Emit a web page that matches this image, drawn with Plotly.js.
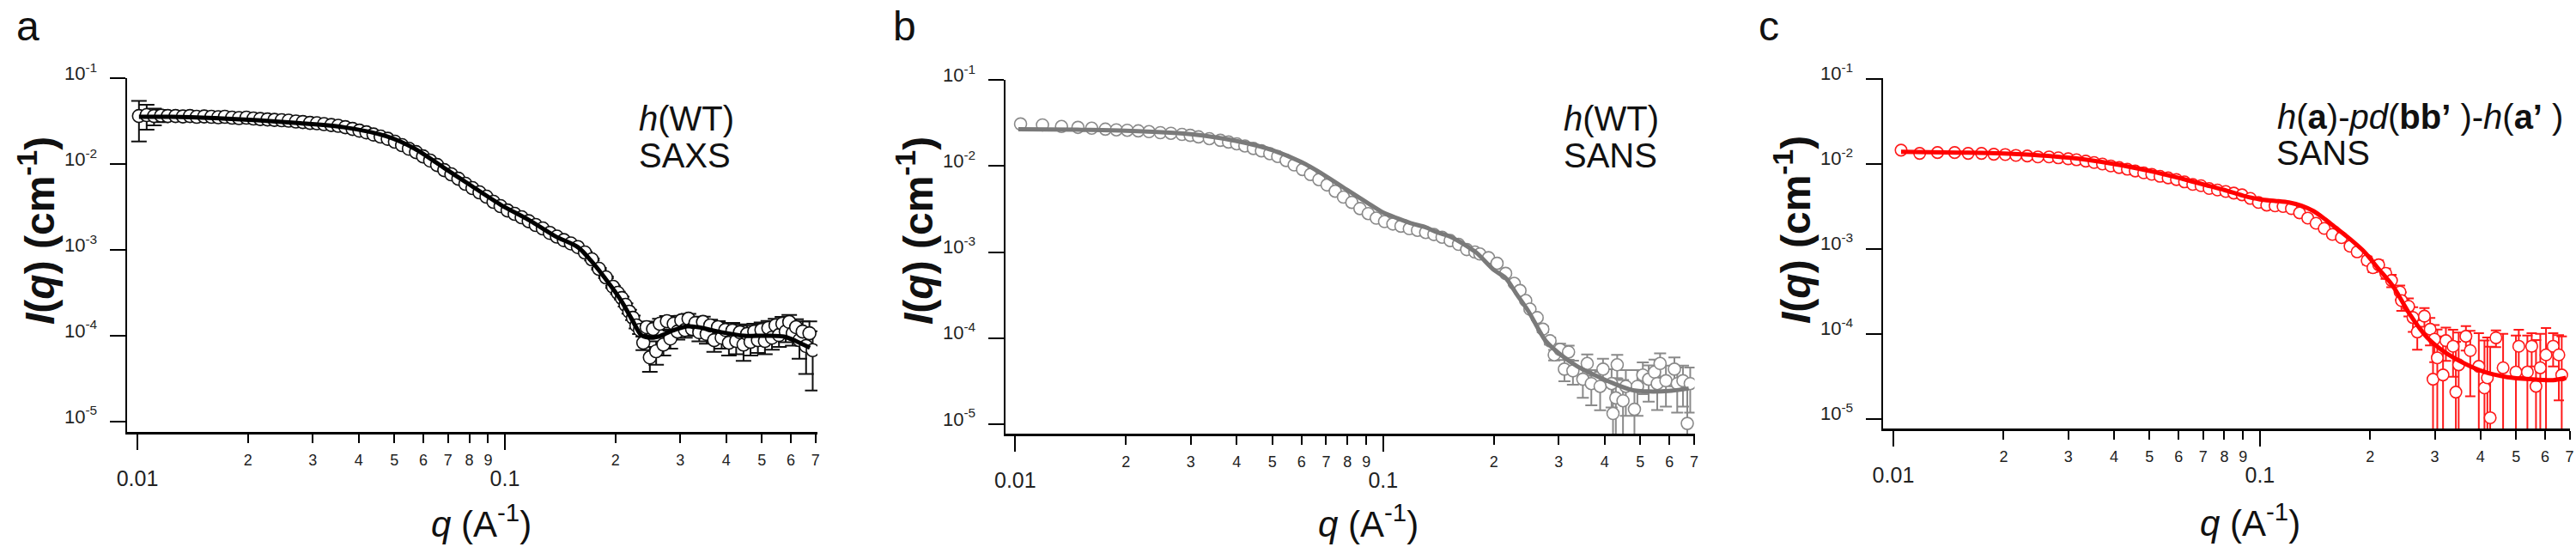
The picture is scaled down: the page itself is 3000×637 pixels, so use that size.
<!DOCTYPE html>
<html>
<head>
<meta charset="utf-8">
<script src="https://cdn.plot.ly/plotly-3.0.1.min.js"></script>
<style>
  html, body { margin: 0; padding: 0; background: #fff; }
  #chart { width: 3000px; height: 637px; }
</style>
</head>
<body>
<div id="chart"></div>
<script>
// ---- panel a : h(WT) SAXS ----
var saxsQ = [0.0101, 0.0106, 0.0111, 0.0116, 0.0121, 0.0127, 0.0133, 0.0139, 0.0145, 0.0152,
  0.0159, 0.0166, 0.0173, 0.0181, 0.0189, 0.0198, 0.0207, 0.0216, 0.0226, 0.0236,
  0.0247, 0.0258, 0.0270, 0.0282, 0.0295, 0.0308, 0.0322, 0.0337, 0.0352, 0.0368,
  0.0385, 0.0402, 0.0420, 0.0439, 0.0459, 0.0480, 0.0502, 0.0525, 0.0548, 0.0573,
  0.0599, 0.0626, 0.0654, 0.0684, 0.0715, 0.0747, 0.0781, 0.0816, 0.0853, 0.0891,
  0.0931, 0.0973, 0.1017, 0.1063, 0.1111, 0.1161, 0.1213, 0.1268, 0.1325, 0.1385,
  0.1447, 0.1512, 0.1580, 0.1651, 0.1725, 0.1803, 0.1884, 0.1969, 0.2030, 0.2080,
  0.2130, 0.2180, 0.2230, 0.2280, 0.2330, 0.2380, 0.2430, 0.2480, 0.2530, 0.2580,
  0.2640, 0.2700, 0.2760, 0.2820, 0.2880, 0.2950, 0.3020, 0.3090, 0.3160, 0.3230,
  0.3300, 0.3380, 0.3460, 0.3540, 0.3620, 0.3710, 0.3800, 0.3890, 0.3980, 0.4070,
  0.4160, 0.4260, 0.4360, 0.4460, 0.4560, 0.4660, 0.4770, 0.4880, 0.4990, 0.5100,
  0.5210, 0.5330, 0.5450, 0.5570, 0.5690, 0.5810, 0.5940, 0.6070, 0.6200, 0.6330,
  0.6460, 0.6600, 0.6740, 0.6880];
var saxsI = [0.0363, 0.0372, 0.0363, 0.0367, 0.0363, 0.0363, 0.0359, 0.0363, 0.0355, 0.0359,
  0.0355, 0.0351, 0.0355, 0.0347, 0.0343, 0.0347, 0.0339, 0.0335, 0.0331, 0.0327,
  0.0324, 0.0320, 0.0313, 0.0309, 0.0302, 0.0299, 0.0292, 0.0285, 0.0279, 0.0269,
  0.0257, 0.0245, 0.0234, 0.0221, 0.0209, 0.0197, 0.0182, 0.0166, 0.0151, 0.0138,
  0.0123, 0.0110, 0.00977, 0.00851, 0.00759, 0.00676, 0.00589, 0.00525, 0.00468, 0.00417,
  0.00363, 0.00324, 0.00288, 0.00263, 0.00240, 0.00216, 0.00195, 0.00178, 0.00158, 0.00143,
  0.00130, 0.00119, 0.00108, 0.000933, 0.000776, 0.000603, 0.000479, 0.000372, 0.000316, 0.000275,
  0.000229, 0.000191, 0.000162, 0.000132, 0.000117, 0.0000830, 0.000126, 0.0000560, 0.000120, 0.0000660,
  0.000138, 0.0000790, 0.000148, 0.0000930, 0.000138, 0.000112, 0.000151, 0.000117, 0.000158, 0.000120,
  0.000141, 0.000110, 0.000145, 0.000105, 0.000132, 0.0000890, 0.000126, 0.0000950, 0.000117, 0.0000830,
  0.000115, 0.0000870, 0.000110, 0.0000790, 0.000105, 0.0000850, 0.000112, 0.0000890, 0.000117, 0.0000870,
  0.000123, 0.0000950, 0.000132, 0.000102, 0.000138, 0.000112, 0.000145, 0.000107, 0.000126, 0.0000890,
  0.000112, 0.0000760, 0.000107, 0.0000680];
var saxsErr = [0.018, 0.012, 0.008, 0.006, 0.004, 0.003, 0.0025, 0.002, 0.0015, 0.0012,
  0.0010, 0.0010, 0.0009, 0.0009, 0.0008, 0.0008, 0.0007, 0.0007, 0.0007, 0.0006,
  0.0006, 0.0006, 0.0006, 0.0006, 0.0006, 0.0006, 0.0006, 0.0006, 0.0006, 0.0006,
  0.0005, 0.0005, 0.0004, 0.0004, 0.0004, 0.0004, 0.0003, 0.0003, 0.0003, 0.0003,
  0.0002, 0.0002, 0.0002, 0.0002, 0.00015, 0.00015, 0.00012, 0.0001, 0.0001, 0.00008,
  0.00007, 0.00006, 0.00005, 0.00005, 0.00004, 0.00004, 0.00004, 0.00003, 0.00003, 0.00003,
  0.00003, 0.00002, 0.00002, 0.00002, 0.00002, 0.000015, 0.000012, 0.00001, 0.00001, 0.00001,
  0.00001, 0.00001, 0.00001, 0.00001, 0.000012, 0.000015, 0.00002, 0.000018, 0.00002, 0.00002,
  0.00002, 0.00002, 0.000022, 0.000022, 0.00002, 0.000022, 0.00002, 0.000022, 0.000022, 0.00002,
  0.000022, 0.000024, 0.000022, 0.000024, 0.000022, 0.000024, 0.000022, 0.000024, 0.000024, 0.000024,
  0.000026, 0.000026, 0.000026, 0.000028, 0.000026, 0.000026, 0.000026, 0.000026, 0.000026, 0.000026,
  0.000026, 0.000026, 0.000026, 0.000028, 0.000028, 0.000028, 0.00003, 0.00003, 0.00003, 0.000035,
  0.000035, 0.00004, 0.00004, 0.000045];
var saxsFitQ = [0.0101, 0.0124, 0.0162, 0.0212, 0.0278, 0.0364, 0.0476, 0.0569, 0.0681, 0.0815,
  0.0975, 0.1167, 0.1371, 0.1583, 0.171, 0.1894, 0.2072, 0.2224, 0.2349, 0.2455,
  0.2616, 0.2859, 0.3128, 0.3358, 0.388, 0.448, 0.517, 0.575, 0.618, 0.676];
var saxsFitI = [0.0355, 0.0355, 0.0343, 0.0324, 0.0299, 0.0269, 0.0211, 0.0151, 0.00912, 0.0055,
  0.00335, 0.00221, 0.001445, 0.00107, 0.00076, 0.00044, 0.000257, 0.000151, 0.000102, 0.0000955,
  0.0000977, 0.000115, 0.000129, 0.000126, 0.00011, 0.0001, 0.0001, 0.0000977, 0.0000871, 0.0000724];

// ---- panel b : h(WT) SANS ----
var wtQ = [0.01034, 0.01186, 0.01336, 0.01481, 0.01614, 0.01758, 0.01883, 0.02016, 0.0216, 0.0231,
  0.0248, 0.0265, 0.0284, 0.0299, 0.0315, 0.0337, 0.0361, 0.0380, 0.0400, 0.0421,
  0.0444, 0.0467, 0.0492, 0.0517, 0.0545, 0.0573, 0.0604, 0.0635, 0.0669, 0.0704,
  0.0741, 0.0780, 0.0822, 0.0865, 0.0911, 0.0958, 0.1009, 0.1063, 0.1118, 0.1178,
  0.1240, 0.1305, 0.1374, 0.1446, 0.1522, 0.1603, 0.1687, 0.1776, 0.1832, 0.1934,
  0.2040, 0.2153, 0.2272, 0.2355, 0.2441, 0.2507, 0.2622, 0.2717, 0.2842, 0.2918,
  0.3025, 0.3110, 0.3191, 0.3280, 0.3490, 0.3587, 0.3680, 0.3889, 0.3959, 0.4178,
  0.4215, 0.4290, 0.4327, 0.4487, 0.4567, 0.4820, 0.4910, 0.5080, 0.5270, 0.5465,
  0.5560, 0.5660, 0.5870, 0.6190, 0.6300, 0.6530, 0.6710, 0.6834];
var wtI = [0.0308, 0.0300, 0.0288, 0.0281, 0.0275, 0.0268, 0.0263, 0.0260, 0.0256, 0.0251,
  0.0244, 0.0240, 0.0233, 0.0227, 0.0218, 0.0208, 0.0199, 0.0190, 0.0181, 0.0171,
  0.0160, 0.0150, 0.0139, 0.0129, 0.0116, 0.0103, 0.0091, 0.00798, 0.00694, 0.00603,
  0.0051, 0.00435, 0.00378, 0.0032, 0.0028, 0.00248, 0.00226, 0.00212, 0.0020, 0.00187,
  0.00179, 0.00169, 0.0016, 0.00149, 0.00136, 0.00123, 0.00107, 0.00100, 0.00095, 0.00086,
  0.00074, 0.000565, 0.000432, 0.000357, 0.000273, 0.000217, 0.000173, 0.000127, 0.000093, 0.000064,
  0.000074, 0.0000436, 0.000069, 0.0000417, 0.0000333, 0.0000507, 0.0000296, 0.0000275, 0.0000436, 0.0000296,
  0.0000133, 0.0000202, 0.000049, 0.0000187, 0.0000275, 0.0000149, 0.0000275, 0.0000373, 0.0000333, 0.0000403,
  0.0000296, 0.0000507, 0.000032, 0.0000436, 0.0000296, 0.000032, 0.0000102, 0.0000296];
var wtErr = [0.0008, 0.0006, 0.0005, 0.0005, 0.0004, 0.0004, 0.0004, 0.0004, 0.0004, 0.0004,
  0.0004, 0.0004, 0.0004, 0.0004, 0.0004, 0.0003, 0.0003, 0.0003, 0.0003, 0.0003,
  0.0003, 0.0003, 0.0003, 0.0003, 0.0002, 0.0002, 0.0002, 0.0002, 0.00015, 0.00015,
  0.00012, 0.0001, 0.00008, 0.00007, 0.00006, 0.00005, 0.00005, 0.00005, 0.00004, 0.00004,
  0.00004, 0.00004, 0.00004, 0.00003, 0.00003, 0.00003, 0.00003, 0.00003, 0.00003, 0.00003,
  0.00003, 0.000025, 0.00002, 0.00002, 0.000015, 0.000012, 0.00001, 0.00001, 0.000009, 0.000009,
  0.000012, 0.000012, 0.000013, 0.000013, 0.000013, 0.000014, 0.000013, 0.000013, 0.000014, 0.000014,
  0.000014, 0.000014, 0.000015, 0.000014, 0.000015, 0.000014, 0.000015, 0.000015, 0.000015, 0.000016,
  0.000015, 0.000016, 0.000016, 0.000016, 0.000016, 0.000016, 0.000022, 0.000016];
var wtFitQ = [0.0102, 0.0148, 0.02, 0.03, 0.04, 0.05, 0.06, 0.07, 0.08, 0.09,
  0.1, 0.11, 0.12, 0.13, 0.14, 0.15, 0.16, 0.17, 0.18, 0.2,
  0.2153, 0.23, 0.2485, 0.2765, 0.3026, 0.337, 0.382, 0.425, 0.473, 0.527,
  0.608, 0.677];
var wtFitI = [0.0268, 0.0264, 0.0257, 0.0234, 0.0195, 0.0153, 0.0111, 0.0076, 0.00525, 0.0038,
  0.00288, 0.00245, 0.00214, 0.00195, 0.0017, 0.00155, 0.00135, 0.00115, 0.00097, 0.00062,
  0.0005, 0.00033, 0.000204, 0.000093, 0.000065, 0.000047, 0.000036, 0.0000295, 0.000025, 0.000024,
  0.0000245, 0.000026];

// ---- panel c : h(a)-pd(bb')-h(a') SANS ----
var mixQ = [0.0105, 0.0118, 0.0132, 0.0147, 0.0160, 0.0174, 0.0188, 0.0202, 0.0216, 0.0232,
  0.0248, 0.0266, 0.0282, 0.0300, 0.0316, 0.0335, 0.0353, 0.0372, 0.0392, 0.0413,
  0.0435, 0.0457, 0.0482, 0.0507, 0.0534, 0.0562, 0.0592, 0.0623, 0.0656, 0.0691,
  0.0727, 0.0766, 0.0807, 0.0849, 0.0894, 0.0942, 0.0991, 0.1044, 0.1100, 0.1157,
  0.1219, 0.1283, 0.1351, 0.1423, 0.1498, 0.1577, 0.1669, 0.1762, 0.1842, 0.1962,
  0.2034, 0.2109, 0.2205, 0.2286, 0.2412, 0.2434, 0.2546, 0.2616, 0.2688, 0.2811,
  0.2914, 0.2967, 0.2994, 0.3048, 0.3160, 0.3217, 0.3365, 0.3425, 0.3486, 0.3648,
  0.3749, 0.3956, 0.4099, 0.4175, 0.4249, 0.4406, 0.4608, 0.4995, 0.5085, 0.5368,
  0.5515, 0.5666, 0.5821, 0.6034, 0.6310, 0.6541, 0.6660];
var mixI = [0.0144, 0.0132, 0.0135, 0.0135, 0.0132, 0.0132, 0.0129, 0.0128, 0.0125, 0.0123,
  0.0120, 0.0120, 0.0117, 0.0114, 0.0111, 0.0107, 0.0103, 0.0099, 0.0094, 0.0090,
  0.0086, 0.0082, 0.0078, 0.0075, 0.0071, 0.0068, 0.0065, 0.0061, 0.0057, 0.0055,
  0.0051, 0.0049, 0.0047, 0.0045, 0.0043, 0.0039, 0.0035, 0.00325, 0.00319, 0.00313,
  0.00296, 0.00264, 0.00229, 0.00199, 0.00173, 0.00147, 0.00135, 0.00107, 0.000918, 0.000728,
  0.000598, 0.000647, 0.000513, 0.000423, 0.00031, 0.000246, 0.00021, 0.000155, 0.000105, 0.000161,
  0.000113, 0.0000292, 0.0000863, 0.0000521, 0.0000328, 0.000083, 0.0000713, 0.0000206, 0.0000431, 0.0000933,
  0.0000634, 0.0000414, 0.0000231, 0.0000303, 0.0000103, 0.0000897, 0.0000398, 0.0000355, 0.0000713, 0.0000355,
  0.0000713, 0.0000241, 0.0000398, 0.0000565, 0.0000713, 0.0000565, 0.0000328];
var mixErr = [0.0004, 0.0003, 0.0003, 0.0003, 0.0003, 0.0003, 0.0003, 0.0003, 0.0003, 0.0003,
  0.0003, 0.0003, 0.0003, 0.0003, 0.0003, 0.0003, 0.0003, 0.0003, 0.0003, 0.0003,
  0.0003, 0.0003, 0.0003, 0.0003, 0.0003, 0.0003, 0.0003, 0.0003, 0.0003, 0.0003,
  0.0002, 0.0002, 0.0002, 0.0002, 0.0002, 0.0002, 0.0002, 0.0002, 0.0002, 0.0002,
  0.0002, 0.0002, 0.0002, 0.00015, 0.00015, 0.00012, 0.0001, 0.0001, 0.00008, 0.00008,
  0.00007, 0.00008, 0.00007, 0.00007, 0.00006, 0.00006, 0.00005, 0.00005, 0.00004, 0.00004,
  0.00004, 0.00006, 0.00004, 0.00006, 0.00006, 0.000035, 0.00004, 0.00006, 0.00006, 0.00003,
  0.000045, 0.00006, 0.00006, 0.00006, 0.00006, 0.00002, 0.00006, 0.00006, 0.00004, 0.00006,
  0.00003, 0.00006, 0.00006, 0.00006, 0.00003, 0.00004, 0.00006];
var mixFitQ = [0.0105, 0.015, 0.02, 0.03, 0.04, 0.05, 0.06, 0.07, 0.08, 0.09,
  0.1, 0.11, 0.12, 0.13, 0.14, 0.15, 0.161, 0.1765, 0.1927, 0.21,
  0.2307, 0.257, 0.2862, 0.3189, 0.3614, 0.41, 0.473, 0.5468, 0.631, 0.684];
var mixFitI = [0.01377, 0.0135, 0.01315, 0.01175, 0.0099, 0.0082, 0.0068, 0.0057, 0.0049, 0.0042,
  0.0038, 0.00365, 0.0035, 0.0032, 0.00277, 0.00225, 0.00177, 0.00129, 0.00092, 0.00059,
  0.000363, 0.000167, 0.0000897, 0.000061, 0.0000447, 0.0000355, 0.0000309, 0.0000292, 0.0000285, 0.0000303];

// ---- tick labels ----
var minorTickVals = [0.02, 0.03, 0.04, 0.05, 0.06, 0.07, 0.08, 0.09, 0.2, 0.3, 0.4, 0.5, 0.6, 0.7];
var minorTickText = ['2', '3', '4', '5', '6', '7', '8', '9', '2', '3', '4', '5', '6', '7'];
var majorTickVals = [0.01, 0.1];
var majorTickText = ['0.01', '0.1'];
var yTickVals = [1e-5, 1e-4, 1e-3, 1e-2, 1e-1];
var yTickText = ['10<sup>-5</sup>', '10<sup>-4</sup>', '10<sup>-3</sup>', '10<sup>-2</sup>', '10<sup>-1</sup>'];

var FONT = 'Liberation Sans, Arial, Helvetica, sans-serif';
var W = 3000, H = 637;

function px(x) { return x / W; }
function py(y) { return 1 - y / H; }

function minorX(anchor, domain, range) {
  return {
    anchor: anchor, domain: domain, type: 'log', range: range,
    showline: true, linecolor: '#000', linewidth: 2.5,
    ticks: 'outside', ticklen: 10, tickwidth: 2, tickcolor: '#000',
    tickmode: 'array', tickvals: minorTickVals, ticktext: minorTickText,
    tickfont: {family: FONT, size: 18, color: '#222'},
    ticklabelstandoff: 5,
    showgrid: false, zeroline: false, fixedrange: true
  };
}

function majorX(over, anchor, range) {
  return {
    overlaying: over, anchor: anchor, side: 'bottom', type: 'log', range: range,
    showline: false, ticks: 'outside', ticklen: 20, tickwidth: 2, tickcolor: '#000',
    tickmode: 'array', tickvals: majorTickVals, ticktext: majorTickText,
    tickfont: {family: FONT, size: 25, color: '#222'},
    ticklabelstandoff: 12,
    showgrid: false, zeroline: false, fixedrange: true
  };
}

function yAx(anchor, domain, range) {
  return {
    anchor: anchor, domain: domain, type: 'log', range: range,
    showline: true, linecolor: '#000', linewidth: 2.5,
    ticks: 'outside', ticklen: 18, tickwidth: 2, tickcolor: '#000',
    tickmode: 'array', tickvals: yTickVals, ticktext: yTickText,
    tickfont: {family: FONT, size: 22, color: '#222'},
    ticklabelstandoff: 10, ticklabelshift: -6,
    showgrid: false, zeroline: false, fixedrange: true
  };
}

function dataTrace(q, I, err, xa, ya, col, size, capW) {
  return {
    type: 'scatter', mode: 'markers', x: q, y: I, xaxis: xa, yaxis: ya,
    marker: {symbol: 'circle', size: size, color: '#fff', line: {color: col, width: 1.6}},
    error_y: {type: 'data', array: err, visible: true, color: col, thickness: 2, width: capW},
    hoverinfo: 'skip', showlegend: false
  };
}

function fitTrace(q, I, xa, ya, col) {
  return {
    type: 'scatter', mode: 'lines', x: q, y: I, xaxis: xa, yaxis: ya,
    line: {color: col, width: 5, shape: 'spline', smoothing: 0.8},
    hoverinfo: 'skip', showlegend: false
  };
}

function emptyTrace(xa, ya) {
  return {type: 'scatter', mode: 'markers', x: [], y: [], xaxis: xa, yaxis: ya, hoverinfo: 'skip', showlegend: false};
}

var data = [
  dataTrace(saxsQ, saxsI, saxsErr, 'x', 'y', '#111', 15, 9),
  fitTrace(saxsFitQ, saxsFitI, 'x', 'y', '#000'),
  emptyTrace('x4', 'y'),
  dataTrace(wtQ, wtI, wtErr, 'x2', 'y2', '#8a8a8a', 14, 7),
  fitTrace(wtFitQ, wtFitI, 'x2', 'y2', '#7a7a7a'),
  emptyTrace('x5', 'y2'),
  dataTrace(mixQ, mixI, mixErr, 'x3', 'y3', '#ff1a1a', 13.5, 6),
  fitTrace(mixFitQ, mixFitI, 'x3', 'y3', '#ff0000'),
  emptyTrace('x6', 'y3')
];

var rangeA = [-2.028, -0.1495], rangeB = [-2.0264, -0.1535], rangeC = [-2.028, -0.154];

function ann(text, x, y, size, opts) {
  var a = {
    text: text, xref: 'paper', yref: 'paper', x: px(x), y: py(y),
    xanchor: 'left', yanchor: 'middle', showarrow: false,
    font: {family: FONT, size: size, color: '#111'}
  };
  for (var k in opts) a[k] = opts[k];
  return a;
}

var yTitle = '<b><i>I</i>(<i>q</i>) (cm<sup>-1</sup>)</b>';
var xTitle = '<i>q</i> (A<sup>-1</sup>)';

var annotations = [
  ann('a', 17, 2, 48, {yanchor: 'top'}),
  ann('b', 1038, 2, 48, {yanchor: 'top'}),
  ann('c', 2046, 2, 48, {yanchor: 'top'}),
  ann(yTitle, 43, 269, 48, {xanchor: 'center', textangle: -90}),
  ann(yTitle, 1066, 269, 48, {xanchor: 'center', textangle: -90}),
  ann(yTitle, 2088, 268, 48, {xanchor: 'center', textangle: -90}),
  ann(xTitle, 560, 607, 42, {xanchor: 'center'}),
  ann(xTitle, 1593, 607, 42, {xanchor: 'center'}),
  ann(xTitle, 2620, 606, 42, {xanchor: 'center'}),
  ann('<i>h</i>(WT)', 742, 138, 40), ann('SAXS', 742, 181, 40),
  ann('<i>h</i>(WT)', 1819, 138, 40), ann('SANS', 1819, 181, 40),
  ann('<i>h</i>(<b>a</b>)-<i>pd</i>(<b>bb\u2019</b> )-<i>h</i>(<b>a\u2019</b> )', 2650, 136, 40),
  ann('SANS', 2649, 178, 40)
];

var layout = {
  width: W, height: H,
  margin: {l: 0, r: 0, t: 0, b: 0, pad: 0},
  paper_bgcolor: '#fff', plot_bgcolor: 'rgba(0,0,0,0)',
  font: {family: FONT, color: '#111'},
  showlegend: false,
  xaxis: minorX('y', [px(148), px(952)], rangeA),
  yaxis: yAx('x', [py(503), py(91)], [-5.12, -0.999]),
  xaxis4: majorX('x', 'y', rangeA),
  xaxis2: minorX('y2', [px(1171), px(1973.5)], rangeB),
  yaxis2: yAx('x2', [py(505), py(93)], [-5.11, -0.999]),
  xaxis5: majorX('x2', 'y2', rangeB),
  xaxis3: minorX('y3', [px(2193), px(2993)], rangeC),
  yaxis3: yAx('x3', [py(499.3), py(91.4)], [-5.117, -0.999]),
  xaxis6: majorX('x3', 'y3', rangeC),
  annotations: annotations
};

Plotly.newPlot('chart', data, layout, {displayModeBar: false, staticPlot: true});
</script>
</body>
</html>
